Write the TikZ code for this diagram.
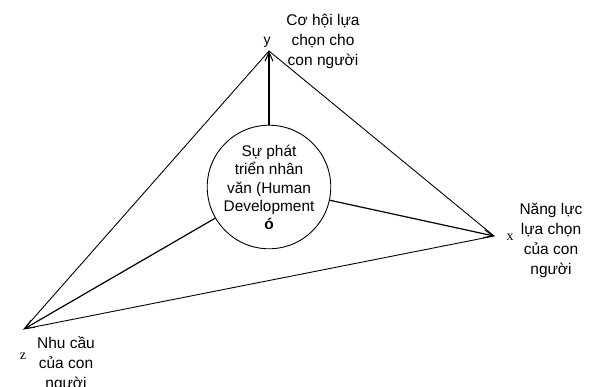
\documentclass[tikz,border=0pt]{standalone}
\usepackage{fontspec}
\setmainfont{Liberation Sans}
\newfontfamily\serifvar{Liberation Serif}
\usetikzlibrary{arrows.meta}
\tikzset{
  edgeline/.style={line width=0.9pt, black},
  arrowline/.style={line width=1.2pt, black, -{Straight Barb[length=9pt,width=8pt,line width=1pt]}},
  lbl/.style={font=\fontsize{15.5}{20}\selectfont, align=center, inner sep=0pt},
  vlbl/.style={font=\serifvar\fontsize{14}{14}\selectfont, inner sep=0pt},
  hub/.style={circle, draw, line width=0.9pt, minimum size=97pt, inner sep=0pt, align=center,
    font=\fontsize{15.4}{18.5}\selectfont}
}
\begin{document}
\begin{tikzpicture}[x=1pt,y=-1pt]
\useasboundingbox (0,0) rectangle (600,386);
\coordinate (y) at (269,51);
\coordinate (x) at (494,236);
\coordinate (z) at (24,329);
\node[hub] (c) at (269,187) {Sự phát\\triển nhân\\văn (Human\\Development\\[-1pt]\textbf{ó}};
\draw[edgeline] (y) -- (x) -- (z) -- cycle;
\draw[arrowline] (c) -- (y);
\draw[arrowline] (c) -- (x);
\draw[arrowline] (c) -- (z);
\node[lbl] (ylab) at (323,41) {Cơ hội lựa\\chọn cho\\con người};
\node[lbl] (xlab) at (551,240) {Năng lực\\lựa chọn\\của con\\người};
\node[lbl] (zlab) at (66,364) {Nhu cầu\\của con\\người};
\node[font=\fontsize{14}{14}\selectfont, inner sep=0pt] (ytxt) at (267,42) {y};
\node[vlbl] (xtxt) at (510,237) {x};
\node[vlbl] (ztxt) at (23,356) {z};
\end{tikzpicture}
\end{document}
